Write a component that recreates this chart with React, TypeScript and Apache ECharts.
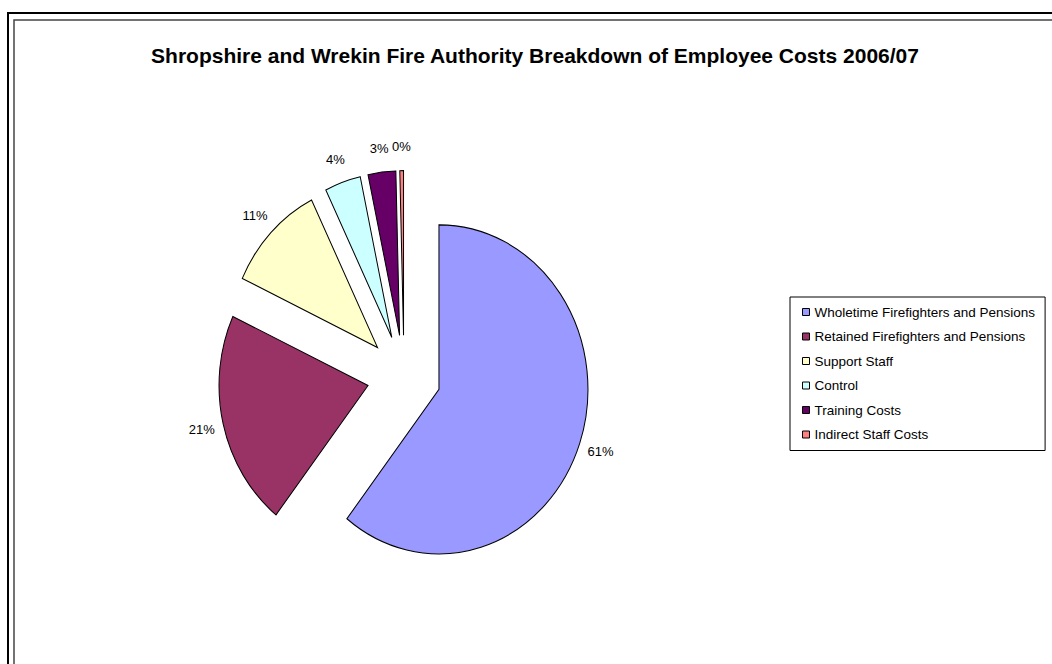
import React, { useEffect, useRef } from "react";
import * as echarts from "echarts";

// Employee cost breakdown (percent of total)
const categories = [
  "Wholetime Firefighters and Pensions",
  "Retained Firefighters and Pensions",
  "Support Staff",
  "Control",
  "Training Costs",
  "Indirect Staff Costs",
];
const values = [60.6, 21.3, 10.8, 3.9, 3.0, 0.4];
const colors = ["#9999FF", "#993366", "#FFFFCC", "#CCFFFF", "#660066", "#FF8080"];
const titleText =
  "Shropshire and Wrekin Fire Authority Breakdown of Employee Costs 2006/07";

// Pie geometry (the pie is drawn slightly taller than wide)
const CX = 404;
const CY = 376;
const R = 149;
const SCALE_Y = 1.104;
const EXPLODE = 37;
const LABEL_DIST = 208;

const FONT = '"Liberation Sans", Arial, sans-serif';

export default function App() {
  const ref = useRef<HTMLDivElement>(null);

  useEffect(() => {
    if (!ref.current) return;
    const chart = echarts.init(ref.current, null, { renderer: "svg" });
    const total = values.reduce((a, b) => a + b, 0);
    const starts: number[] = [];
    let acc = 0;
    values.forEach((v) => {
      starts.push(acc);
      acc += v;
    });

    const series = categories.map((name, i) => ({
      type: "custom",
      name,
      coordinateSystem: "none",
      itemStyle: { color: colors[i], borderColor: "#000", borderWidth: 1 },
      data: [[values[i]]],
      renderItem: (_params: any, api: any) => {
        const v = api.value(0);
        const a0 = (starts[i] / total) * Math.PI * 2;
        const a1 = ((starts[i] + v) / total) * Math.PI * 2;
        const mid = (a0 + a1) / 2;
        const dx = EXPLODE * Math.sin(mid);
        const dy = -EXPLODE * Math.cos(mid);
        const pct = Math.round((v / total) * 100) + "%";
        return {
          type: "group",
          children: [
            {
              type: "sector",
              originX: CX,
              originY: CY,
              scaleY: SCALE_Y,
              shape: {
                cx: CX + dx,
                cy: CY + dy,
                r: R,
                r0: 0,
                startAngle: a0 - Math.PI / 2,
                endAngle: a1 - Math.PI / 2,
                clockwise: true,
              },
              style: {
                fill: colors[i],
                stroke: "#000",
                lineWidth: 1,
                strokeNoScale: true,
              },
            },
            {
              type: "text",
              x: CX + LABEL_DIST * Math.sin(mid),
              y: CY - LABEL_DIST * Math.cos(mid) * SCALE_Y,
              style: {
                text: pct,
                fill: "#000",
                font: `13px ${FONT}`,
                align: "center",
                verticalAlign: "middle",
              },
            },
          ],
        };
      },
    }));

    chart.setOption({
      animation: false,
      color: colors,
      title: {
        text: titleText,
        left: 530,
        top: 40,
        textAlign: "center",
        textStyle: {
          fontFamily: FONT,
          fontSize: 21,
          fontWeight: "bold",
          color: "#000",
        },
      },
      legend: {
        orient: "vertical",
        left: 790,
        top: 297,
        data: categories,
        icon: "rect",
        itemWidth: 7,
        itemHeight: 7,
        itemGap: 10.5,
        padding: [8, 10, 9, 12],
        borderColor: "#000",
        borderWidth: 1,
        itemStyle: { borderColor: "#000", borderWidth: 1 },
        textStyle: { fontFamily: FONT, fontSize: 13.5, color: "#000" },
        selectedMode: false,
      },
      graphic: [
        {
          type: "rect",
          shape: { x: 8, y: 13, width: 1200, height: 800 },
          style: { fill: "none", stroke: "#000", lineWidth: 2 },
          silent: true,
        },
        {
          type: "rect",
          shape: { x: 14, y: 20, width: 1200, height: 800 },
          style: { fill: "none", stroke: "#444", lineWidth: 1.5 },
          silent: true,
        },
      ],
      series,
    });
    return () => chart.dispose();
  }, []);

  return (
    <div
      ref={ref}
      style={{
        position: "fixed",
        left: 0,
        top: 0,
        width: 1052,
        height: 664,
        background: "#fff",
      }}
    />
  );
}
